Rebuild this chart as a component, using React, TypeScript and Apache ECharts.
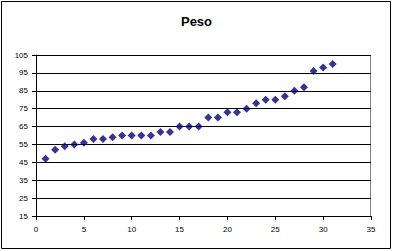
import React, { useEffect, useRef } from "react";
import * as echarts from "echarts";

const xValues = [1,2,3,4,5,6,7,8,9,10,11,12,13,14,15,16,17,18,19,20,21,22,23,24,25,26,27,28,29,30,31];
const pesoValues = [47,52,54,55,56,58,58,59,60,60,60,60,62,62,65,65,65,70,70,73,73,75,78,80,80,82,85,87,96,98,100];
const titleText = "Peso";

export default function App() {
  const ref = useRef<HTMLDivElement>(null);
  useEffect(() => {
    document.body.style.margin = "0";
    const chart = echarts.init(ref.current!, null, { renderer: "svg" });
    const font = "Liberation Sans, Arial, sans-serif";
    chart.setOption({
      animation: false,
      backgroundColor: "#ffffff",
      title: {
        text: titleText,
        left: "center",
        top: 10,
        textStyle: { fontFamily: font, fontSize: 13, fontWeight: "bold", color: "#000" },
      },
      graphic: [
        { type: "rect", z: -10, shape: { x: 1.5, y: 1.5, width: 389, height: 247 }, style: { fill: "none", stroke: "#000", lineWidth: 1 } },
        { type: "rect", z: -10, shape: { x: 36.5, y: 55.5, width: 334, height: 161 }, style: { fill: "none", stroke: "#808080", lineWidth: 1 } },
      ],
      grid: { left: 36, top: 55, width: 335, height: 161, containLabel: false },
      xAxis: {
        type: "value",
        min: 0,
        max: 35,
        interval: 5,
        axisLine: { show: true, lineStyle: { color: "#000", width: 1 } },
        axisTick: { show: true, length: 4, lineStyle: { color: "#000" } },
        axisLabel: { fontFamily: font, fontSize: 8, color: "#000", margin: 9 },
        splitLine: { show: false },
      },
      yAxis: {
        type: "value",
        min: 15,
        max: 105,
        interval: 10,
        axisLine: { show: true, lineStyle: { color: "#000", width: 1 } },
        axisTick: { show: true, length: 4, lineStyle: { color: "#000" } },
        axisLabel: { fontFamily: font, fontSize: 8, color: "#000", margin: 8 },
        splitLine: { show: true, lineStyle: { color: "#000", width: 1 } },
      },
      series: [
        {
          type: "scatter",
          symbol: "diamond",
          symbolSize: 8,
          itemStyle: { color: "#000080" },
          data: xValues.map((x, i) => [x, pesoValues[i]]),
        },
      ],
    });
    return () => chart.dispose();
  }, []);
  return <div ref={ref} style={{ position: "fixed", left: 0, top: 0, width: 393, height: 251 }} />;
}
